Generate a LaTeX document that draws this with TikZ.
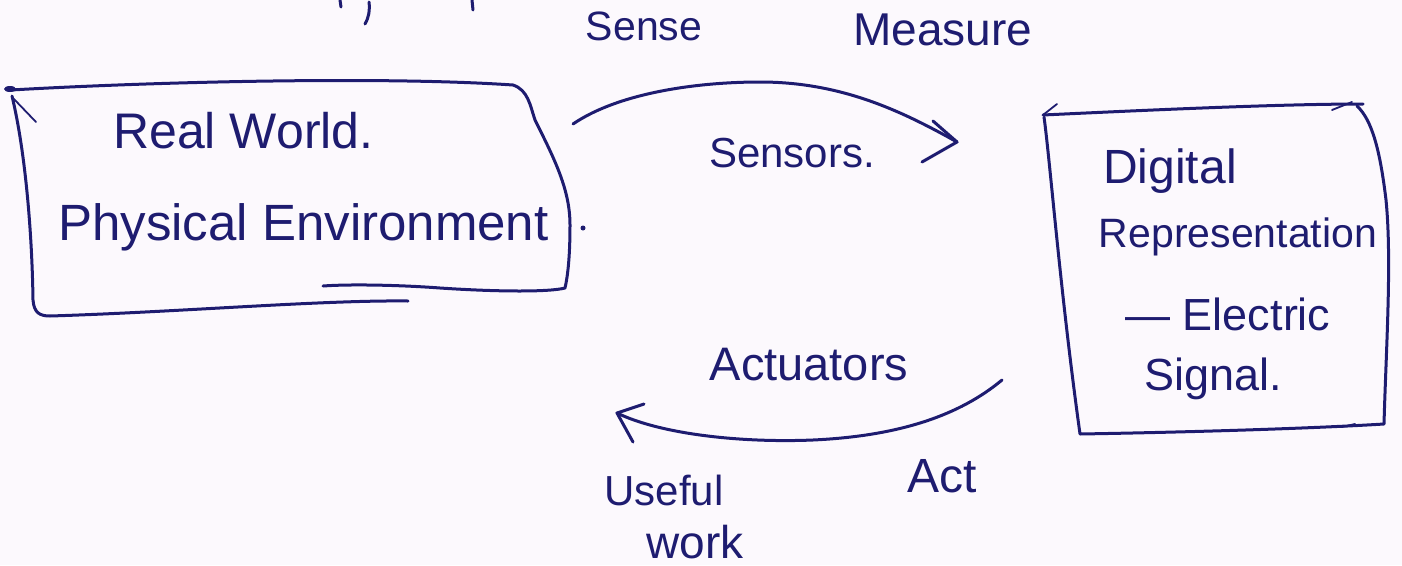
\documentclass[tikz,border=0pt]{standalone}
\usepackage{fontspec}
\setmainfont{Liberation Sans}
\definecolor{ink}{RGB}{30,28,112}
\definecolor{paper}{RGB}{252,249,253}
\begin{document}
\begin{tikzpicture}[x=1pt,y=-1pt,
  pen/.style={draw=ink,line width=3pt,line cap=round,line join=round},
  thinpen/.style={draw=ink,line width=1.8pt,line cap=round,line join=round},
  lbl/.style={text=ink,inner sep=0pt,anchor=base},
  fs/.style={font=\fontsize{#1}{#1}\selectfont},
  area/.style={draw=none,inner sep=0pt},
]
\fill[paper] (0,0) rectangle (1402,565);
\useasboundingbox (0,0) rectangle (1402,565);

% cut-off fragments at the top edge
\draw[pen] (340,0) -- (341,7);
\draw[pen] (369,2) .. controls (370,10) and (369,17) .. (365,24);
\draw[pen] (472,0) -- (473,10);

% areas of the two boxes
\node[area,minimum width=550pt,minimum height=225pt] (rw) at (290,202) {};
\node[area,minimum width=340pt,minimum height=325pt] (dr) at (1213,270) {};

% left box (hand drawn)
\draw[pen] (11,90) .. controls (150,82) and (380,76) .. (513,85)
  .. controls (528,90) and (530,105) .. (535,120)
  .. controls (555,160) and (570,190) .. (570,225)
  .. controls (570,255) and (568,275) .. (565,288)
  .. controls (550,292) and (500,292) .. (440,288)
  .. controls (400,285) and (350,284) .. (323,286);
\draw[pen] (12,96) .. controls (25,150) and (32,230) .. (33,300)
  .. controls (34,313) and (40,316) .. (50,316)
  .. controls (180,312) and (320,300) .. (408,301);
\draw[thinpen] (12,97) -- (36,122);
\fill[ink] (10,89) ellipse (6pt and 3pt);

% right box (hand drawn)
\draw[pen] (1043,115) .. controls (1150,110) and (1280,104) .. (1363,104);
\draw[thinpen] (1043,115) -- (1057,104);
\draw[thinpen] (1332,110) -- (1352,102);
\draw[pen] (1044,117) .. controls (1050,160) and (1060,290) .. (1080,434)
  .. controls (1200,432) and (1320,428) .. (1384,424)
  .. controls (1386,350) and (1392,260) .. (1386,200)
  .. controls (1380,150) and (1372,120) .. (1357,106);
\draw[thinpen] (1342,427) -- (1355,424);

% texts of the left box
\node[lbl,fs=50,anchor=base west] (t1) at (113,148) {Real World.};
\node[lbl,fs=51,anchor=base west] (t2) at (58,240) {Physical Environment};
\fill[ink] (583,228) circle (2.5pt);

% texts of the right box
\node[lbl,fs=48] (d1) at (1170,183) {Digital};
\node[lbl,fs=41] (d2) at (1238,247) {Representation};
\node[lbl,fs=45] (d3) at (1228,330) {— Electric};
\node[lbl,fs=45] (d4) at (1213,390) {Signal.};

% labels
\node[lbl,fs=41] (sense) at (644,40) {Sense};
\node[lbl,fs=46] (measure) at (943,45) {Measure};
\node[lbl,fs=42] (sensors) at (792,167) {Sensors.};
\node[lbl,fs=47] (act1) at (809,380) {Actuators};
\node[lbl,fs=42] (useful) at (664,505) {Useful};
\node[lbl,fs=46] (work) at (695,558) {work};
\node[lbl,fs=48] (act) at (942,492) {Act};

% connector: sensors (real world -> digital representation)
\coordinate (s0) at (573,124);
\coordinate (s1) at (957,142);
\draw[pen] (s0) .. controls (620,92) and (700,82) .. (760,82)
  .. controls (840,82) and (900,110) .. (s1);
\draw[pen] (933,121) -- (s1) -- (922,162);

% connector: actuators (digital representation -> real world)
\coordinate (a0) at (1002,380);
\coordinate (a1) at (617,413);
\draw[pen] (a0) .. controls (960,415) and (900,436) .. (813,440)
  .. controls (740,443) and (660,434) .. (a1);
\draw[pen] (644,404) -- (a1) -- (633,442);
\end{tikzpicture}
\end{document}
